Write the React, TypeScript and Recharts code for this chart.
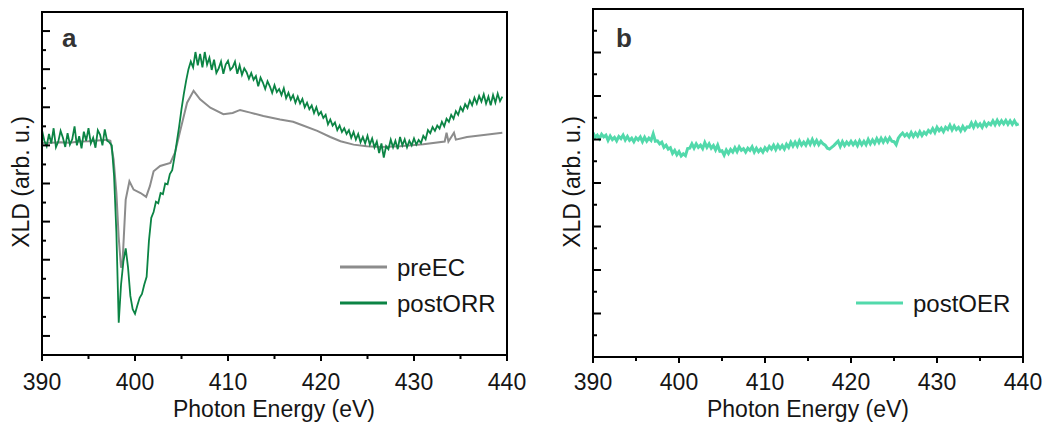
import React from 'react';
import { LineChart, Line, XAxis, YAxis, ReferenceArea, Legend } from 'recharts';

// ---------- data ----------
const xTicks = [390, 395, 400, 405, 410, 415, 420, 425, 430, 435, 440];
const xTickLabels = [390, 400, 410, 420, 430, 440];

const aYTicks = [0.5, 1, 1.5, 2, 2.5, 3, 3.5, 4, 4.5, 5, 5.5, 6, 6.5, 7, 7.5, 8, 8.5];
const aYMajor = [0.5, 1.5, 2.5, 3.5, 4.5, 5.5, 6.5, 7.5, 8.5];
const bYTicks = [0.5, 1, 1.5, 2, 2.5, 3, 3.5, 4, 4.5, 5, 5.5, 6, 6.5, 7, 7.5];
const bYMajor = [1, 2, 3, 4, 5, 6, 7];

const preEnergy = [
  390, 391, 392, 393, 394, 395, 396, 397, 397.35, 397.7, 398.0, 398.24, 398.5, 398.65, 398.8, 399.0,
  399.4, 399.85, 400.6, 401.2, 401.6, 402.0, 402.7, 403.8, 404.3, 404.9, 405.6, 406.3, 407.0, 408.1,
  409.5, 410.5, 411.3, 412.4, 413.8, 415.6, 417, 418, 419.6, 421, 422.1, 423.5, 424.9, 426.5, 428.5,
  431, 433.3, 433.5, 433.7, 434.3, 434.5, 435.7, 437.5, 439.5,
];
const preValues = [
  5.56, 5.57, 5.58, 5.57, 5.6, 5.61, 5.63, 5.65, 5.62, 5.13, 4.25, 3.11, 2.29, 2.4, 3.11, 4.08,
  4.56, 4.34, 4.25, 4.15, 4.43, 4.82, 4.96, 5.04, 5.31, 5.92, 6.62, 6.93, 6.71, 6.49,
  6.32, 6.35, 6.43, 6.36, 6.27, 6.18, 6.12, 6.03, 5.88, 5.72, 5.61, 5.52, 5.48, 5.46, 5.48,
  5.53, 5.6, 5.83, 5.6, 5.83, 5.65, 5.72, 5.77, 5.83,
];

const energyGrid = [
  390, 390.25, 390.5, 390.75, 391, 391.25, 391.5, 391.75, 392, 392.25,
  392.5, 392.75, 393, 393.25, 393.5, 393.75, 394, 394.25, 394.5, 394.75,
  395, 395.25, 395.5, 395.75, 396, 396.25, 396.5, 396.75, 397, 397.25,
  397.5, 397.75, 398, 398.25, 398.5, 398.75, 399, 399.25, 399.5, 399.75,
  400, 400.25, 400.5, 400.75, 401, 401.25, 401.5, 401.75, 402, 402.25,
  402.5, 402.75, 403, 403.25, 403.5, 403.75, 404, 404.25, 404.5, 404.75,
  405, 405.25, 405.5, 405.75, 406, 406.25, 406.5, 406.75, 407, 407.25,
  407.5, 407.75, 408, 408.25, 408.5, 408.75, 409, 409.25, 409.5, 409.75,
  410, 410.25, 410.5, 410.75, 411, 411.25, 411.5, 411.75, 412, 412.25,
  412.5, 412.75, 413, 413.25, 413.5, 413.75, 414, 414.25, 414.5, 414.75,
  415, 415.25, 415.5, 415.75, 416, 416.25, 416.5, 416.75, 417, 417.25,
  417.5, 417.75, 418, 418.25, 418.5, 418.75, 419, 419.25, 419.5, 419.75,
  420, 420.25, 420.5, 420.75, 421, 421.25, 421.5, 421.75, 422, 422.25,
  422.5, 422.75, 423, 423.25, 423.5, 423.75, 424, 424.25, 424.5, 424.75,
  425, 425.25, 425.5, 425.75, 426, 426.25, 426.5, 426.75, 427, 427.25,
  427.5, 427.75, 428, 428.25, 428.5, 428.75, 429, 429.25, 429.5, 429.75,
  430, 430.25, 430.5, 430.75, 431, 431.25, 431.5, 431.75, 432, 432.25,
  432.5, 432.75, 433, 433.25, 433.5, 433.75, 434, 434.25, 434.5, 434.75,
  435, 435.25, 435.5, 435.75, 436, 436.25, 436.5, 436.75, 437, 437.25,
  437.5, 437.75, 438, 438.25, 438.5, 438.75, 439, 439.25, 439.5,
];

const orrValues = [
  5.9, 5.62, 5.48, 5.8, 5.55, 5.95, 5.45, 5.6, 5.88, 5.7,
  5.46, 5.82, 5.52, 5.66, 6.0, 5.5, 5.74, 5.42, 5.86, 5.62,
  5.95, 5.55, 5.7, 5.44, 5.9, 5.78, 5.5, 5.92, 5.62, 5.58,
  5.5, 4.7, 3.2, 0.85, 1.85, 2.45, 2.8, 2.3, 1.55, 1.2,
  1.08, 1.3, 1.5, 1.6, 1.85, 2.05, 3.0, 3.6, 3.75, 4.02,
  3.98, 4.25, 4.22, 4.5, 4.48, 4.75, 4.85, 5.2, 5.6, 6.0,
  6.45, 6.85, 7.2, 7.5, 7.7, 7.55, 7.95, 7.6, 7.9, 7.55,
  7.95, 7.62, 7.8, 7.48, 7.75, 7.4, 7.52, 7.7, 7.38, 7.62,
  7.72, 7.48, 7.55, 7.7, 7.38, 7.6, 7.35, 7.52, 7.42, 7.25,
  7.4, 7.22, 7.32, 7.05, 7.28, 7.15, 6.98, 7.18, 7.05, 6.88,
  7.08, 6.9, 6.98, 6.82, 7.0, 6.74, 6.88, 6.7, 6.82, 6.62,
  6.78, 6.6, 6.72, 6.5, 6.62, 6.45, 6.55, 6.35, 6.5, 6.3,
  6.38, 6.22, 6.3, 6.05, 6.18, 6.02, 6.1, 5.9, 6.02, 5.85,
  5.95, 5.8, 5.9, 5.7, 5.85, 5.65, 5.8, 5.58, 5.72, 5.55,
  5.75, 5.52, 5.68, 5.45, 5.6, 5.3, 5.55, 5.18, 5.48, 5.4,
  5.65, 5.45, 5.62, 5.4, 5.72, 5.5, 5.66, 5.45, 5.62, 5.5,
  5.68, 5.52, 5.64, 5.56, 5.75, 5.66, 5.9, 5.82, 5.98, 5.88,
  6.02, 5.94, 6.12, 6.0, 6.2, 6.12, 6.3, 6.2, 6.4, 6.3,
  6.5, 6.4, 6.58, 6.48, 6.68, 6.55, 6.75, 6.6, 6.8, 6.65,
  6.84, 6.6, 6.78, 6.55, 6.82, 6.62, 6.86, 6.66, 6.78,
];

const oerValues = [
  5.16, 5.05, 5.1, 5.02, 5.12, 5.06, 5.1, 4.98, 5.08, 5.0,
  5.05, 4.97, 5.07, 5.02, 5.1, 4.99, 5.07, 4.98, 5.03, 4.95,
  5.04, 4.99, 5.06, 4.95, 5.05, 4.96, 5.03, 4.98, 5.13, 4.96,
  4.97, 4.9, 4.94, 4.82, 4.87, 4.78, 4.81, 4.68, 4.75, 4.65,
  4.72, 4.62, 4.67, 4.63, 4.79, 4.8, 4.9, 4.8, 4.9, 4.82,
  4.87, 4.79, 4.93, 4.82, 4.9, 4.8, 4.86, 4.76, 4.87, 4.73,
  4.74, 4.64, 4.76, 4.68, 4.77, 4.71, 4.81, 4.72, 4.83, 4.75,
  4.79, 4.71, 4.8, 4.75, 4.83, 4.71, 4.8, 4.72, 4.78, 4.71,
  4.81, 4.75, 4.84, 4.78, 4.87, 4.77, 4.87, 4.79, 4.86, 4.78,
  4.89, 4.82, 4.94, 4.85, 4.94, 4.85, 4.97, 4.87, 4.94, 4.87,
  4.98, 4.89, 5.0, 4.89, 4.98, 4.88, 4.96, 4.9, 4.87, 4.8,
  4.78, 4.82, 4.86, 4.91, 4.96, 4.84, 4.95, 4.86, 4.94, 4.88,
  4.96, 4.88, 4.95, 4.86, 4.97, 4.88, 4.96, 4.88, 5.0, 4.9,
  4.99, 4.91, 5.02, 4.93, 5.03, 4.94, 5.03, 4.95, 5.04, 4.96,
  4.95, 4.88, 5.03, 5.1, 5.15, 5.08, 5.13, 5.06, 5.16, 5.07,
  5.15, 5.08, 5.18, 5.09, 5.17, 5.12, 5.21, 5.16, 5.25, 5.16,
  5.28, 5.2, 5.26, 5.18, 5.28, 5.23, 5.33, 5.22, 5.31, 5.23,
  5.28, 5.2, 5.3, 5.22, 5.29, 5.28, 5.38, 5.28, 5.39, 5.3,
  5.36, 5.28, 5.39, 5.31, 5.38, 5.34, 5.43, 5.34, 5.44, 5.35,
  5.43, 5.36, 5.44, 5.35, 5.43, 5.35, 5.43, 5.34, 5.36,
];

// ---------- tables built from arrays ----------
const zip = (es: number[], vs: number[]) => es.map((e, i) => ({ e, v: vs[i] }));
const preData = zip(preEnergy, preValues);
const orrData = zip(energyGrid, orrValues);
const oerData = zip(energyGrid, oerValues);

// ---------- styles ----------
const FONT = '"Liberation Sans", Arial, Helvetica, sans-serif';
const TEXT = '#151515';
const GRAY = '#8c8c8c';
const GREEN = '#0b8444';
const MINT = '#52d9ab';
const FS = 23;

const XTick = (props: any) => {
  const { x, y, payload, labelDy } = props;
  const v = payload.value;
  const major = xTickLabels.includes(v);
  return (
    <g>
      <line x1={x} x2={x} y1={y} y2={y + (major ? 6 : 4)} stroke="#000" strokeWidth={2} />
      {major && (
        <text x={x} y={y + labelDy} textAnchor="middle" fontFamily={FONT} fontSize={FS} fill={TEXT}>
          {v}
        </text>
      )}
    </g>
  );
};

const YTick = (props: any) => {
  const { x, y, payload, majors } = props;
  const major = majors.includes(payload.value);
  return <line x1={x} x2={x + (major ? 8 : 4)} y1={y} y2={y} stroke="#000" strokeWidth={2} />;
};

const AxisText = (props: any) => {
  const { tx, ty, rot, text } = props;
  return (
    <text
      x={tx}
      y={ty}
      textAnchor="middle"
      dominantBaseline={rot ? 'central' : 'auto'}
      transform={rot ? `rotate(-90 ${tx} ${ty})` : undefined}
      fontFamily={FONT}
      fontSize={FS}
      fill={TEXT}
    >
      {text}
    </text>
  );
};

type Entry = { name: string; color: string; width: number };

const Overlay = (props: any) => {
  const { w, h, letter, lx, ly, entries, ex, ey } = props as {
    w: number; h: number; letter: string; lx: number; ly: number; entries: Entry[]; ex: number; ey: number;
  };
  return (
    <svg width={w} height={h} style={{ display: 'block' }}>
      <text x={lx} y={ly} fontFamily={FONT} fontSize={26} fontWeight="bold" fill="#333">
        {letter}
      </text>
      {entries.map((en, i) => (
        <g key={en.name}>
          <line x1={ex} x2={ex + 47} y1={ey + i * 36} y2={ey + i * 36} stroke={en.color} strokeWidth={en.width} />
          <text x={ex + 57} y={ey + i * 36} dominantBaseline="central" fontFamily={FONT} fontSize={FS + 1} fill={TEXT}>
            {en.name}
          </text>
        </g>
      ))}
    </svg>
  );
};

const PanelA = () => (
  <LineChart width={540} height={423} margin={{ top: 12, right: 33, bottom: 0, left: 0 }}>
    <XAxis
      type="number"
      dataKey="e"
      domain={[390, 440]}
      ticks={xTicks}
      interval={0}
      allowDataOverflow
      tickLine={false}
      tickSize={0}
      tickMargin={0}
      tick={(p: any) => <XTick {...p} labelDy={35} />}
      axisLine={{ stroke: '#000', strokeWidth: 2 }}
      height={68}
      label={<AxisText tx={274} ty={417} text="Photon Energy (eV)" />}
    />
    <YAxis
      type="number"
      domain={[0, 9]}
      ticks={aYTicks}
      interval={0}
      allowDataOverflow
      tickLine={false}
      tickSize={0}
      tickMargin={0}
      tick={(p: any) => <YTick {...p} majors={aYMajor} />}
      axisLine={{ stroke: '#000', strokeWidth: 2 }}
      width={42}
      label={<AxisText tx={21} ty={182} rot text="XLD (arb. u.)" />}
    />
    <ReferenceArea x1={390} x2={440} y1={0} y2={9} fill="none" stroke="#000" strokeWidth={2} ifOverflow="visible" />
    <Line data={preData} dataKey="v" stroke={GRAY} strokeWidth={2} dot={false} isAnimationActive={false} type="linear" />
    <Line data={orrData} dataKey="v" stroke={GREEN} strokeWidth={1.8} dot={false} isAnimationActive={false} type="linear" />
    <Legend
      layout="vertical"
      align="center"
      verticalAlign="middle"
      wrapperStyle={{ left: 0, top: 0, width: 540, height: 423, pointerEvents: 'none' }}
      content={() => (
        <Overlay
          w={540}
          h={423}
          letter="a"
          lx={62}
          ly={47}
          ex={340}
          ey={267}
          entries={[
            { name: 'preEC', color: GRAY, width: 3 },
            { name: 'postORR', color: GREEN, width: 3 },
          ]}
        />
      )}
    />
  </LineChart>
);

const PanelB = () => (
  <LineChart width={512} height={423} margin={{ top: 9, right: 29, bottom: 0, left: 0 }}>
    <XAxis
      type="number"
      dataKey="e"
      domain={[390, 440]}
      ticks={xTicks}
      interval={0}
      allowDataOverflow
      tickLine={false}
      tickSize={0}
      tickMargin={0}
      tick={(p: any) => <XTick {...p} labelDy={33} />}
      axisLine={{ stroke: '#000', strokeWidth: 2 }}
      height={66}
      label={<AxisText tx={268} ty={417} text="Photon Energy (eV)" />}
    />
    <YAxis
      type="number"
      domain={[0, 8]}
      ticks={bYTicks}
      interval={0}
      allowDataOverflow
      tickLine={false}
      tickSize={0}
      tickMargin={0}
      tick={(p: any) => <YTick {...p} majors={bYMajor} />}
      axisLine={{ stroke: '#000', strokeWidth: 2 }}
      width={53}
      label={<AxisText tx={32} ty={182} rot text="XLD (arb. u.)" />}
    />
    <ReferenceArea x1={390} x2={440} y1={0} y2={8} fill="none" stroke="#000" strokeWidth={2} ifOverflow="visible" />
    <Line data={oerData} dataKey="v" stroke={MINT} strokeWidth={3} dot={false} isAnimationActive={false} type="linear" />
    <Legend
      layout="vertical"
      align="center"
      verticalAlign="middle"
      wrapperStyle={{ left: 0, top: 0, width: 512, height: 423, pointerEvents: 'none' }}
      content={() => (
        <Overlay
          w={512}
          h={423}
          letter="b"
          lx={76}
          ly={47}
          ex={316}
          ey={303}
          entries={[{ name: 'postOER', color: MINT, width: 3 }]}
        />
      )}
    />
  </LineChart>
);

export default function App() {
  return (
    <div style={{ position: 'absolute', left: 0, top: 0, width: 1052, height: 423, background: '#fff' }}>
      <div style={{ position: 'absolute', left: 0, top: 0 }}>
        <PanelA />
      </div>
      <div style={{ position: 'absolute', left: 540, top: 0 }}>
        <PanelB />
      </div>
    </div>
  );
}
